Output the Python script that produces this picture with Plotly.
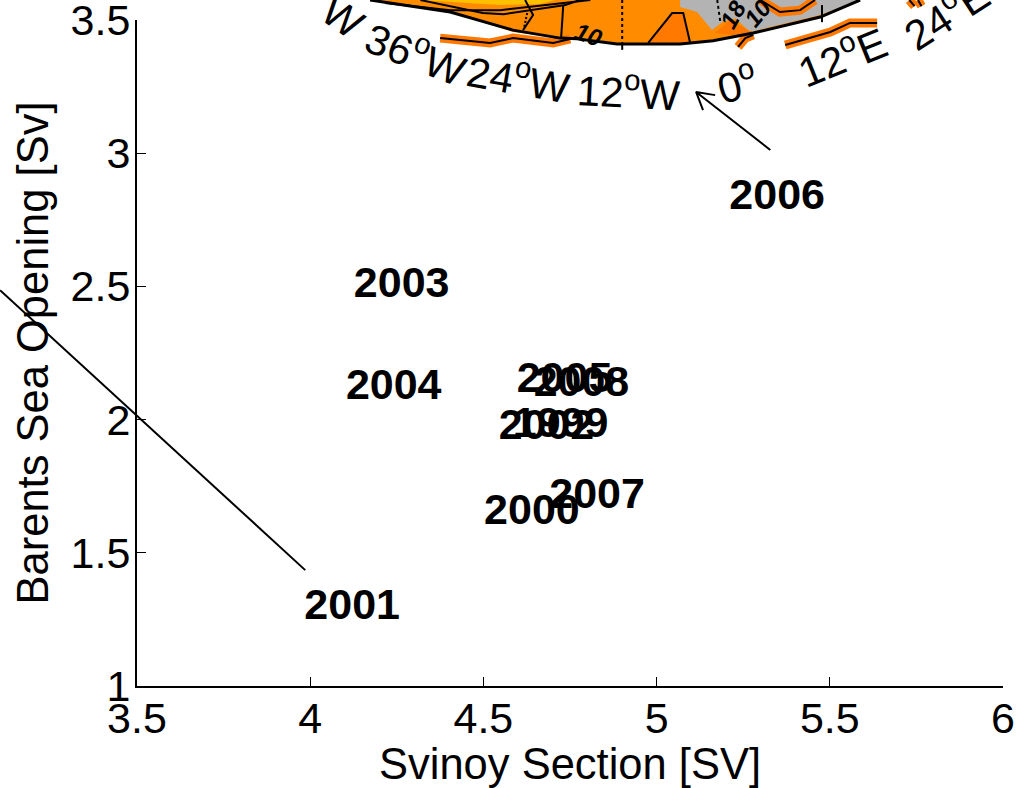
import plotly.graph_objects as go

FONT = "Liberation Sans"

# Year labels: (Svinoy Section [Sv], Barents Sea Opening [Sv])
years = ["2006", "2003", "2004", "2005", "2008", "1999", "2002", "2007", "2000", "2001"]
svinoy = [5.210, 4.126, 4.103, 4.596, 4.645, 4.585, 4.544, 4.690, 4.502, 3.983]
barents = [2.832, 2.502, 2.119, 2.145, 2.130, 1.976, 1.969, 1.710, 1.649, 1.293]

x_ticks = [3.5, 4, 4.5, 5, 5.5, 6]
x_tick_labels = ["3.5", "4", "4.5", "5", "5.5", "6"]
y_ticks = [1, 1.5, 2, 2.5, 3, 3.5]
y_tick_labels = ["1", "1.5", "2", "2.5", "3", "3.5"]

# Leader lines
leader_2001_x = [3.988, 3.108]
leader_2001_y = [1.435, 2.486]
leader_2006_x = [5.329, 5.115, 5.170, 5.115, 5.135]
leader_2006_y = [3.012, 3.230, 3.218, 3.230, 3.162]

# Map inset remains
ocean_x = [4.175, 4.406, 4.587, 4.723, 4.772, 4.887, 5.069, 5.164, 5.280, 5.473, 5.588]
ocean_y = [3.575, 3.530, 3.455, 3.432, 3.436, 3.414, 3.414, 3.425, 3.451, 3.511, 3.575]
warm_x = [4.319, 4.550, 4.665, 4.709]
warm_y = [3.575, 3.556, 3.560, 3.575]
land_x = [5.069, 5.069, 5.118, 5.161, 5.190, 5.228, 5.271, 5.473, 5.588]
land_y = [3.575, 3.549, 3.530, 3.462, 3.492, 3.507, 3.455, 3.519, 3.575]
patch_x = [4.977, 5.046, 5.078, 5.098]
patch_y = [3.414, 3.526, 3.526, 3.414]
patch2_x = [5.170, 5.213, 5.280, 5.235]
patch2_y = [3.451, 3.500, 3.451, 3.440]

strip_a_x = [4.377, 4.521, 4.587, 4.703, 4.752]
strip_a_y = [3.432, 3.414, 3.432, 3.414, 3.429]
strip_b_x = [5.372, 5.502, 5.559, 5.637]
strip_b_y = [3.406, 3.455, 3.489, 3.489]
strip_c_x = [5.236, 5.257, 5.280]
strip_c_y = [3.399, 3.432, 3.444]
strip_d_x = [5.300, 5.357, 5.415, 5.458]
strip_d_y = [3.575, 3.530, 3.537, 3.575]
strip_e_x = [5.730, 5.745]
strip_e_y = [3.575, 3.552]
strip_f_x = [5.755, 5.765]
strip_f_y = [3.575, 3.552]

coast_x = [4.175, 4.406, 4.587, 4.723, 4.772, 4.887, 5.069, 5.164, 5.280, 5.473, 5.588]
coast_y = [3.575, 3.530, 3.462, 3.432, 3.430, 3.410, 3.410, 3.422, 3.451, 3.511, 3.575]
front_a_x = [4.218, 4.406, 4.550, 4.738, 4.810]
front_a_y = [3.564, 3.537, 3.537, 3.564, 3.575]
front_b_x = [4.320, 4.500, 4.560, 4.738, 4.780]
front_b_y = [3.575, 3.526, 3.522, 3.556, 3.575]
vert_x = [4.732, 4.726]
vert_y = [3.556, 3.435]
curve_x = [4.622, 4.645, 4.616]
curve_y = [3.575, 3.519, 3.462]
dash_a_x = [4.628, 4.619]
dash_a_y = [3.526, 3.470]
dash_b_x = [4.902, 4.902]
dash_b_y = [3.575, 3.414]
dash_c_x = [5.176, 5.185]
dash_c_y = [3.575, 3.492]
tick_c_x = [4.902, 4.902]
tick_c_y = [3.414, 3.388]
tick_d_x = [5.478, 5.478]
tick_d_y = [3.556, 3.492]

map_text = ["W", "36<sup>o</sup>W", "24<sup>o</sup>W", "12<sup>o</sup>W", "0<sup>o</sup>", "12<sup>o</sup>E", "24<sup>o</sup>E"]
map_text_x = [4.097, 4.308, 4.602, 4.919, 5.233, 5.534, 5.833]
map_text_y = [3.511, 3.380, 3.285, 3.237, 3.267, 3.369, 3.526]
map_text_angle = [35, 21, 10, 3, -15, -22, -33]
contour_text = ["10", "18", "10"]
contour_text_x = [4.804, 5.222, 5.291]
contour_text_y = [3.444, 3.519, 3.526]
contour_text_angle = [20, -60, -50]

ORANGE = "#FF8C00"
DEEP = "#FF7800"
GRAY = "#B3B3B3"

fig = go.Figure()


def poly(x, y, color, outline=None):
    fig.add_trace(go.Scatter(x=x, y=y, xaxis="x2", yaxis="y2", mode="lines", fill="toself", fillcolor=color,
                             line=dict(color=outline or color, width=2 if outline else 0),
                             hoverinfo="skip", showlegend=False))


def line(x, y, width=2, color="black", dash="solid"):
    fig.add_trace(go.Scatter(x=x, y=y, xaxis="x2", yaxis="y2", mode="lines",
                             line=dict(color=color, width=width, dash=dash),
                             hoverinfo="skip", showlegend=False))


fig.add_trace(go.Scatter(x=svinoy, y=barents, text=years, mode="text", textposition="middle right",
                         textfont=dict(family=FONT, size=43, color="black", weight="bold"),
                         cliponaxis=False, hoverinfo="skip", showlegend=False))

poly(ocean_x, ocean_y, ORANGE)
poly(warm_x, warm_y, "#FFC000")
poly(land_x, land_y, GRAY)
poly(patch_x, patch_y, DEEP, "black")
poly(patch2_x, patch2_y, DEEP)

for sx, sy in [(strip_a_x, strip_a_y), (strip_b_x, strip_b_y), (strip_c_x, strip_c_y), (strip_d_x, strip_d_y),
               (strip_e_x, strip_e_y), (strip_f_x, strip_f_y)]:
    line(sx, sy, width=9, color=DEEP)
    line(sx, sy, width=2)

line(coast_x, coast_y, width=3)
line(front_a_x, front_a_y)
line(front_b_x, front_b_y)
line(vert_x, vert_y)
line(curve_x, curve_y)
line(dash_a_x, dash_a_y, dash="2px,2px")
line(dash_b_x, dash_b_y, dash="3px,3px")
line(dash_c_x, dash_c_y, dash="3px,3px")
line(tick_c_x, tick_c_y)
line(tick_d_x, tick_d_y)

line(leader_2001_x, leader_2001_y)
line(leader_2006_x, leader_2006_y)

annotations = [dict(text=t, x=x, y=y, xref="x2", yref="y2", textangle=a, showarrow=False,
                    xanchor="center", yanchor="middle", font=dict(family=FONT, size=42, color="black"))
               for t, x, y, a in zip(map_text, map_text_x, map_text_y, map_text_angle)]
annotations += [dict(text=f"<b><i>{t}</i></b>", x=x, y=y, xref="x2", yref="y2", textangle=a,
                     showarrow=False, xanchor="center", yanchor="middle",
                     font=dict(family=FONT, size=24, color="black"))
                for t, x, y, a in zip(contour_text, contour_text_x, contour_text_y, contour_text_angle)]

axis_common = dict(showgrid=False, zeroline=False, showline=True, linecolor="black", linewidth=2,
                   ticks="inside", ticklen=9, tickwidth=1, tickcolor="black", ticklabeloverflow="allow",
                   tickfont=dict(family=FONT, size=43, color="black"))

fig.update_layout(
    width=1017, height=788, margin=dict(l=0, r=0, t=0, b=0, autoexpand=False),
    paper_bgcolor="white", plot_bgcolor="rgba(0,0,0,0)", showlegend=False, annotations=annotations,
    xaxis=dict(domain=[137 / 1017, 1003 / 1017], range=[3.5, 6], tickvals=x_ticks, ticktext=x_tick_labels,
               ticklabelstandoff=-7, anchor="y",
               title=dict(text="Svinoy Section [SV]", font=dict(family=FONT, size=43.5, color="black"), standoff=14),
               **axis_common),
    yaxis=dict(domain=[102 / 788, 768 / 788], range=[1, 3.5], tickvals=y_ticks, ticktext=y_tick_labels,
               anchor="x", ticklabelstandoff=-4,
               title=dict(text="Barents Sea Opening [Sv]", font=dict(family=FONT, size=43.5, color="black"), standoff=8),
               **axis_common),
    xaxis2=dict(domain=[0, 1], range=[3.10784, 6.04037], visible=False, anchor="y2"),
    yaxis2=dict(domain=[0, 1], range=[0.61712, 3.57508], visible=False, anchor="x2"),
)

fig.write_html("out.html", post_script="document.body.style.margin='0';", config={"displayModeBar": False})
